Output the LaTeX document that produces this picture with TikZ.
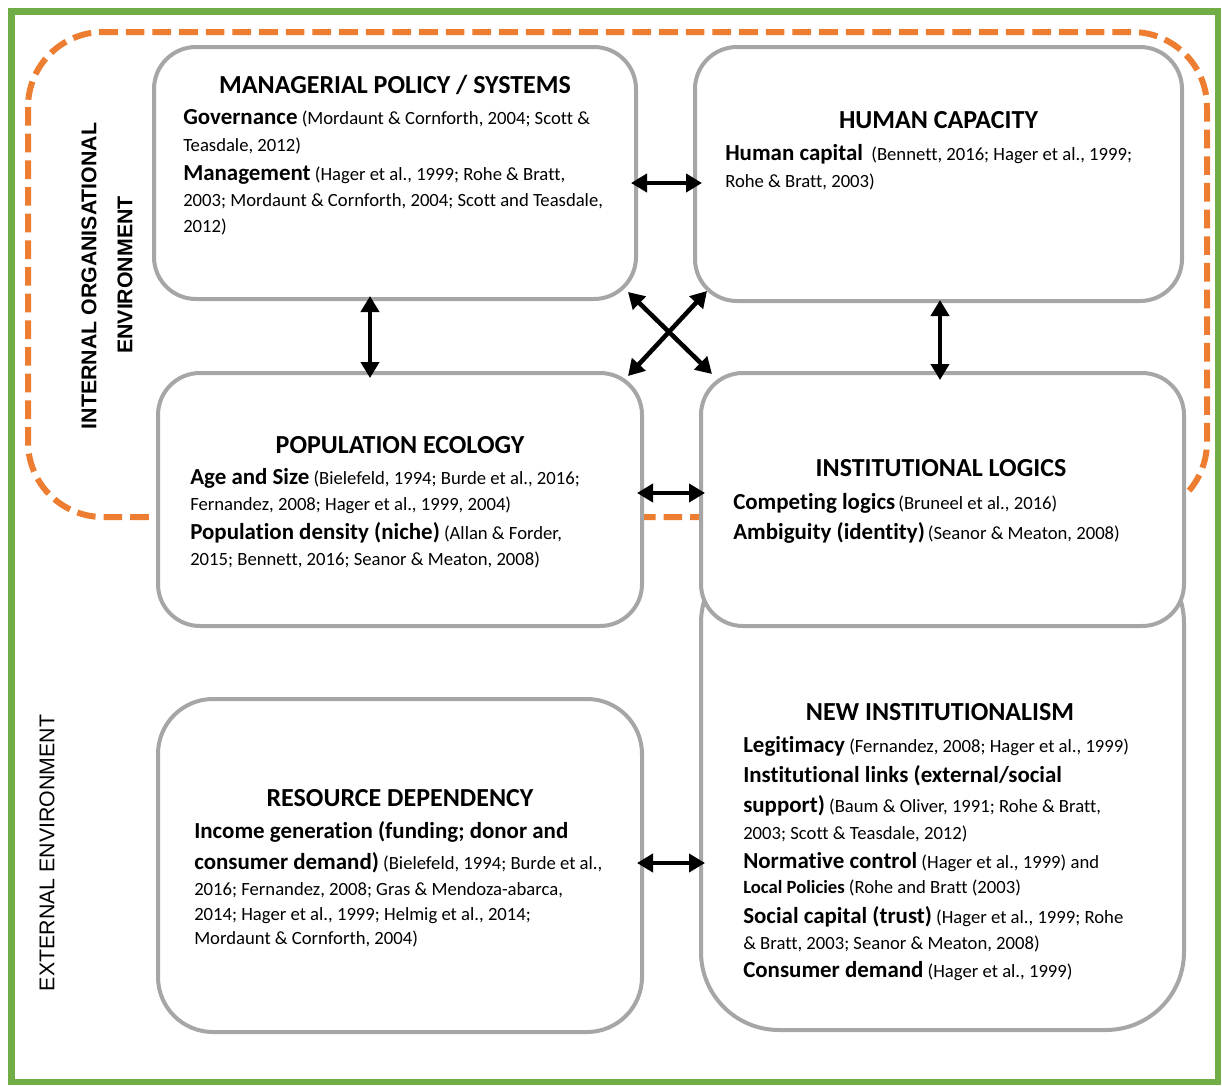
\documentclass[tikz,border=0pt]{standalone}
\usepackage{fontspec}
\setmainfont[Ligatures=NoCommon]{Carlito}
\newfontfamily\arialf{Liberation Sans}
\usetikzlibrary{arrows.meta,calc}
\definecolor{frgreen}{HTML}{70AD47}
\definecolor{frorange}{HTML}{ED7D31}
\definecolor{boxgray}{HTML}{A6A6A6}
\newcommand\tb[1]{{\fontsize{17.2}{20}\selectfont\bfseries #1}}
\newcommand\tsb[1]{{\bfseries #1}}
\tikzset{
 box/.style={draw=boxgray, line width=3pt, fill=white, inner sep=0pt, outer sep=0pt},
 ttl/.style={anchor=base, inner sep=0pt, font=\fontsize{19.5}{23}\selectfont\bfseries},
 txt/.style={anchor=base west, inner sep=0pt, font=\fontsize{14}{20}\selectfont},
 dbl/.style={line width=3.4pt, {Triangle[length=12pt,width=13.5pt]}-{Triangle[length=12pt,width=13.5pt]}},
 vlab/.style={rotate=90, inner sep=0pt, font=\arialf\fontsize{16}{19}\selectfont},
}
\begin{document}
\begin{tikzpicture}[x=0.75pt,y=-0.75pt]
\useasboundingbox (0,0) rectangle (1222,1086);
% frames
\draw[frgreen, line width=5pt] (11.5,11.5) rectangle (1218,1082);
\draw[frorange, line width=4.5pt, dash pattern=on 14pt off 6pt, rounded corners=56.25pt] (28,32) rectangle (1207,517);
% boxes
\node[box, minimum width=362.25pt, minimum height=363.75pt, rounded corners=58.5pt] (ni) at (942.5,787.5) {};
\node[box, minimum width=361.5pt, minimum height=189pt, rounded corners=31.5pt] (mgr) at (395,173) {};
\node[box, minimum width=365.25pt, minimum height=190.5pt, rounded corners=31.5pt] (hc) at (938.5,174) {};
\node[box, minimum width=363pt, minimum height=189.75pt, rounded corners=31.5pt] (pe) at (400,499.5) {};
\node[box, minimum width=362.25pt, minimum height=189.75pt, rounded corners=31.5pt] (il) at (942.5,499.5) {};
\node[box, minimum width=363pt, minimum height=249.75pt, rounded corners=41.25pt] (rd) at (400,865.5) {};
% arrows
\draw[dbl] ($(mgr.east |- 0,183)+(-5,0)$) -- ($(hc.west |- 0,183)+(7,0)$);
\draw[dbl] ($(mgr.south -| 370,0)+(0,-3)$) -- ($(pe.north -| 370,0)+(0,5)$);
\draw[dbl] ($(hc.south -| 940,0)+(0,-1)$) -- ($(il.north -| 940,0)+(0,7)$);
\draw[dbl] ($(mgr.south east)+(-8,-7)$) -- ($(il.north west)+(11,1)$);
\draw[dbl] ($(hc.south west)+(12,-10)$) -- ($(pe.north east)+(-14,3)$);
\draw[dbl] ($(pe.east |- 0,493)+(-5,0)$) -- ($(il.west |- 0,493)+(4,0)$);
\draw[dbl] ($(rd.east |- 0,863)+(-5,0)$) -- ($(ni.west |- 0,863)+(4,0)$);
% managerial
\node[ttl] (mgrT) at (395,93) {MANAGERIAL POLICY / SYSTEMS};
\node[txt] (m1) at (183,124) {\tb{Governance} (Mordaunt \& Cornforth, 2004; Scott \&};
\node[txt] (m2) at (183,151) {Teasdale, 2012)};
\node[txt] (m3) at (183,180) {\tb{Management} (Hager et al., 1999; Rohe \& Bratt,};
\node[txt] (m4) at (183,206) {2003; Mordaunt \& Cornforth, 2004; Scott and Teasdale,};
\node[txt] (m5) at (183,232) {2012)};
% human capacity
\node[ttl] (hcT) at (938.5,128) {HUMAN CAPACITY};
\node[txt] (h1) at (725,160) {\tb{Human capital} \ (Bennett, 2016; Hager et al., 1999;};
\node[txt] (h2) at (725,187) {Rohe \& Bratt, 2003)};
% population ecology
\node[ttl] (peT) at (400,453) {POPULATION ECOLOGY};
\node[txt] (p1) at (190,484) {\tb{Age and Size} (Bielefeld, 1994; Burde et al., 2016;};
\node[txt] (p2) at (190,510) {Fernandez, 2008; Hager et al., 1999, 2004)};
\node[txt] (p3) at (190,539) {\tb{Population density (niche)} (Allan \& Forder,};
\node[txt] (p4) at (190,565) {2015; Bennett, 2016; Seanor \& Meaton, 2008)};
% institutional logics
\node[ttl] (ilT) at (941,476) {INSTITUTIONAL LOGICS};
\node[txt] (i1) at (733,509) {\tb{Competing logics}\,(Bruneel et al., 2016)};
\node[txt] (i2) at (733,539) {\tb{Ambiguity (identity)}\,(Seanor \& Meaton, 2008)};
% new institutionalism
\node[ttl] (niT) at (940,720) {NEW INSTITUTIONALISM};
\node[txt] (n1) at (743,752) {\tb{Legitimacy} (Fernandez, 2008; Hager et al., 1999)};
\node[txt] (n2) at (743,782) {\tb{Institutional links (external/social}};
\node[txt] (n3) at (743,812) {\tb{support)} (Baum \& Oliver, 1991; Rohe \& Bratt,};
\node[txt] (n4) at (743,839) {2003; Scott \& Teasdale, 2012)};
\node[txt] (n5) at (743,868) {\tb{Normative control} (Hager et al., 1999) and};
\node[txt] (n6) at (743,893) {\tsb{Local Policies} (Rohe and Bratt (2003)};
\node[txt] (n7) at (743,923) {\tb{Social capital (trust)} (Hager et al., 1999; Rohe};
\node[txt] (n8) at (743,949) {\& Bratt, 2003; Seanor \& Meaton, 2008)};
\node[txt] (n9) at (743,977) {\tb{Consumer demand} (Hager et al., 1999)};
% resource dependency
\node[ttl] (rdT) at (400,806) {RESOURCE DEPENDENCY};
\node[txt] (r1) at (194,838) {\tb{Income generation (funding; donor and}};
\node[txt] (r2) at (194,869) {\tb{consumer demand)} (Bielefeld, 1994; Burde et al.,};
\node[txt] (r3) at (194,895) {2016; Fernandez, 2008; Gras \& Mendoza-abarca,};
\node[txt] (r4) at (194,920) {2014; Hager et al., 1999; Helmig et al., 2014;};
\node[txt] (r5) at (194,944) {Mordaunt \& Cornforth, 2004)};
% vertical labels
\node[vlab, font=\arialf\fontsize{16}{19}\selectfont\bfseries] (int1) at (89,276) {INTERNAL ORGANISATIONAL};
\node[vlab, font=\arialf\fontsize{16}{19}\selectfont\bfseries] (int2) at (125,275) {ENVIRONMENT};
\node[vlab] (ext) at (47,853) {EXTERNAL ENVIRONMENT};
\end{tikzpicture}
\end{document}
